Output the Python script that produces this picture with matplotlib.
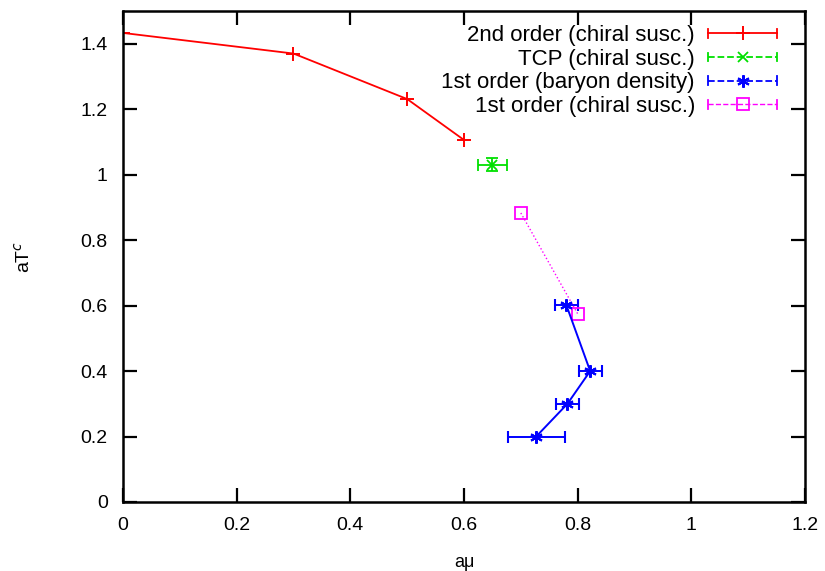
import numpy as np
import matplotlib
matplotlib.use('Agg')
import matplotlib.pyplot as plt
from matplotlib.lines import Line2D
from matplotlib.legend_handler import HandlerBase

plt.rcParams['font.family'] = ['Liberation Sans', 'DejaVu Sans']

# 2nd order (chiral susc.)
red_x = [0.0, 0.3, 0.5, 0.6]
red_y = [1.433, 1.37, 1.231, 1.106]
# TCP (chiral susc.)
green_x = [0.65]
green_y = [1.03]
green_xerr = [0.025]
green_yerr = [0.02]
# 1st order (baryon density)
blue_x = [0.78, 0.822, 0.782, 0.727]
blue_y = [0.602, 0.40, 0.30, 0.20]
blue_xerr = [0.02, 0.02, 0.02, 0.05]
# 1st order (chiral susc.)
pink_x = [0.70, 0.80]
pink_y = [0.883, 0.575]

labels = ['2nd order (chiral susc.)', 'TCP (chiral susc.)',
          '1st order (baryon density)', '1st order (chiral susc.)']
xticks = ['0', '0.2', '0.4', '0.6', '0.8', '1', '1.2']
yticks = ['0', '0.2', '0.4', '0.6', '0.8', '1', '1.2', '1.4']

RED = '#ff0000'
GREEN = '#00e000'
BLUE = '#0000ff'
PINK = '#ff00ff'


class GnuHandler(HandlerBase):
    # gnuplot style key: line with end caps and the point in the middle
    def create_artists(self, legend, orig, xdescent, ydescent, width, height,
                       fontsize, trans):
        y = height / 2 - ydescent
        x0, x1 = -xdescent, width - xdescent
        c = orig.get_color()
        line = Line2D([x0, x1], [y, y], color=c, ls=orig.get_linestyle(),
                      lw=orig.get_linewidth())
        ch = 0.28 * height
        caps = [Line2D([x, x], [y - ch, y + ch], color=c, lw=1.3) for x in (x0, x1)]
        mk = Line2D([(x0 + x1) / 2], [y], marker=orig.get_marker(),
                    ms=orig.get_markersize(), mew=orig.get_markeredgewidth(),
                    mfc=orig.get_markerfacecolor(), mec=c, ls='none')
        arts = [line] + caps + [mk]
        for a in arts:
            a.set_transform(trans)
        return arts


fig = plt.figure(figsize=(8.25, 5.71), dpi=100)
ax = fig.add_axes([123 / 825, 69 / 571, 682 / 825, 491 / 571])

ax.plot(red_x, red_y, color=RED, marker='+', ms=10, mew=1.4, lw=1.3)
ax.errorbar(green_x, green_y, xerr=green_xerr, yerr=green_yerr, color=GREEN,
            marker='x', ms=7, mew=1.3, lw=1.3, ls='none', capsize=4)
ax.errorbar(blue_x, blue_y, xerr=blue_xerr, color=BLUE, marker=(6, 2, 0),
            ms=9, mew=1.5, lw=1.4, capsize=4)
ax.plot(pink_x, pink_y, color=PINK, marker='s', ms=8, mfc='none', mew=1.3,
        lw=1.0, ls=':')

proxies = [
    Line2D([], [], color=RED, ls='-', lw=1.3, marker='+', ms=10, mew=1.4),
    Line2D([], [], color=GREEN, ls=(0, (4, 3)), lw=1.3, marker='x', ms=7, mew=1.3),
    Line2D([], [], color=BLUE, ls=(0, (2, 3)), lw=1.3, marker=(6, 2, 0), ms=9, mew=1.5),
    Line2D([], [], color=PINK, ls=(0, (1, 1.5)), lw=1.0, marker='s', ms=8,
           mew=1.3, mfc='none'),
]
hmap = {p: GnuHandler() for p in proxies}

ax.set_xlim(0, 1.2)
ax.set_ylim(0, 1.5)
ax.set_xticks(np.arange(0, 1.21, 0.2))
ax.set_xticklabels(xticks)
ax.set_yticks(np.arange(0, 1.41, 0.2))
ax.set_yticklabels(yticks)
ax.tick_params(direction='in', top=True, right=True, length=10, width=1.6,
               labelsize=14, pad=11)
for s in ax.spines.values():
    s.set_linewidth(1.8)

ax.set_xlabel('a\u03bc', fontsize=13, labelpad=14)
ax.set_ylabel('aT$^{c}$', fontsize=14, labelpad=34)

leg = ax.legend(proxies, labels, handler_map=hmap, loc='upper right',
                bbox_to_anchor=(0.969, 0.985), frameon=False, markerfirst=False,
                fontsize=16, handlelength=3.1, labelspacing=0.12,
                borderaxespad=0, borderpad=0.3, handletextpad=0.6)
for t in leg.get_texts():
    t.set_ha('right')

fig.savefig('out.png', dpi=100)
